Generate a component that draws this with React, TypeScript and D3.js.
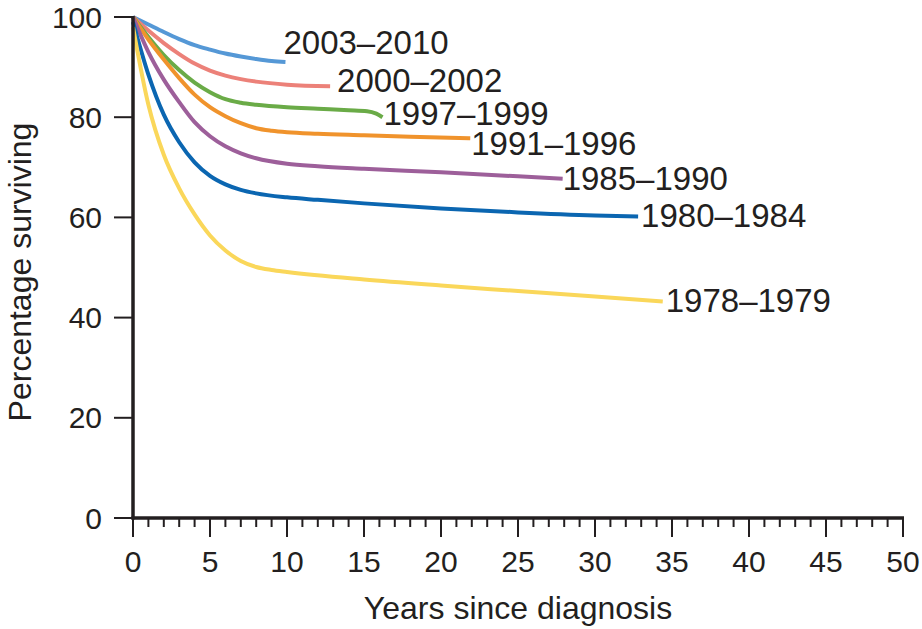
import React, { useEffect, useRef } from 'react';
import * as d3 from 'd3';

// survival curves, [years since diagnosis, % surviving]
const s2003_2010: [number, number][] = [
  [0, 100], [1, 98.5], [2, 97], [3, 95.6], [4, 94.4], [5, 93.5], [6, 92.7], [7, 92.1], [8, 91.6], [9, 91.2], [9.9, 91],
];
const s2000_2002: [number, number][] = [
  [0, 100], [1, 97.3], [2, 94.8], [3, 92.6], [4, 90.7], [5, 89.3], [6, 88.3], [7, 87.6], [8, 87.1], [10, 86.5], [12.8, 86.2],
];
const s1997_1999: [number, number][] = [
  [0, 100], [1, 96], [2, 92.4], [3, 89.4], [4, 86.9], [5, 85], [6, 83.6], [7, 82.9], [8, 82.5], [10, 82], [12, 81.7], [14, 81.4], [15.2, 81.2], [15.8, 80.7], [16.2, 80],
];
const s1991_1996: [number, number][] = [
  [0, 100], [1, 95.5], [2, 91.5], [3, 87.8], [4, 84.5], [5, 82], [6, 80.2], [7, 78.8], [8, 77.8], [9, 77.3], [10, 77], [12, 76.7], [15, 76.4], [18, 76.1], [21.9, 75.8],
];
const s1985_1990: [number, number][] = [
  [0, 100], [1, 93], [2, 87.5], [3, 83], [4, 79], [5, 76.2], [6, 74.2], [7, 72.8], [8, 71.8], [10, 70.7], [12, 70.2], [15, 69.7], [20, 69], [25, 68.2], [27.9, 67.7],
];
const s1980_1984: [number, number][] = [
  [0, 99], [1, 88.5], [2, 80.5], [3, 75], [4, 71], [5, 68.3], [6, 66.6], [7, 65.5], [8, 64.8], [10, 64], [12, 63.5], [15, 62.8], [20, 61.8], [25, 61], [30, 60.4], [32.8, 60.2],
];
const s1978_1979: [number, number][] = [
  [0, 98], [1, 82.5], [2, 72.5], [3, 65.8], [4, 60.6], [5, 56.4], [6, 53.4], [7, 51.3], [8, 50.1], [9, 49.5], [10, 49.1], [15, 47.6], [20, 46.4], [25, 45.3], [30, 44.2], [34.4, 43.2],
];

const cohortLabels = ['2003–2010', '2000–2002', '1997–1999', '1991–1996', '1985–1990', '1980–1984', '1978–1979'];
const cohortSeries = [s2003_2010, s2000_2002, s1997_1999, s1991_1996, s1985_1990, s1980_1984, s1978_1979];
const cohortColors = ['#5598d6', '#ec8179', '#6aab47', '#f0932c', '#9d5f9a', '#0b66b1', '#fad75a'];

const xMajorTicks = [0, 5, 10, 15, 20, 25, 30, 35, 40, 45, 50];
const yTicks = [0, 20, 40, 60, 80, 100];

export default function App() {
  const svgRef = useRef<SVGSVGElement>(null);

  useEffect(() => {
    if (!svgRef.current) return;
    const svg = d3.select(svgRef.current);
    svg.selectAll('*').remove();

    const font = '"Liberation Sans", Arial, sans-serif';
    const ink = '#231f20';

    const x = d3.scaleLinear().domain([0, 50]).range([133, 903]);
    const y = d3.scaleLinear().domain([0, 100]).range([518, 17]);

    // curves
    const line = d3.line<[number, number]>()
      .x(d => x(d[0]))
      .y(d => y(d[1]))
      .curve(d3.curveMonotoneX);

    cohortSeries.forEach((s, i) => {
      svg.append('path')
        .attr('d', line(s)!)
        .attr('fill', 'none')
        .attr('stroke', cohortColors[i])
        .attr('stroke-width', 4)
        .attr('stroke-linecap', 'butt');
    });

    // labels sit just right of each curve's end; top ones are lifted to clear each other
    const nudgeX = [-2, 7, 1, 1, 0, 3, 3];
    const nudgeY = [-20, -6, -4, 5, 0, -1, -1];
    cohortSeries.forEach((s, i) => {
      const last = s[s.length - 1];
      svg.append('text')
        .attr('x', x(last[0]) + nudgeX[i])
        .attr('y', y(last[1]) + nudgeY[i])
        .attr('dy', '0.35em')
        .attr('font-family', font)
        .attr('font-size', 33)
        .attr('fill', ink)
        .text(cohortLabels[i]);
    });

    // axes
    const axes = svg.append('g').attr('stroke', ink);
    axes.append('line')
      .attr('x1', x(0)).attr('x2', x(0))
      .attr('y1', 16).attr('y2', 519.5)
      .attr('stroke-width', 3.5);
    axes.append('line')
      .attr('x1', x(0) - 1.5).attr('x2', x(50) + 1)
      .attr('y1', y(0)).attr('y2', y(0))
      .attr('stroke-width', 3.5);

    axes.selectAll('.ymaj')
      .data(yTicks)
      .enter()
      .append('line')
      .attr('x1', 114).attr('x2', x(0))
      .attr('y1', d => y(d)).attr('y2', d => y(d))
      .attr('stroke-width', 2);

    axes.selectAll('.xmin')
      .data(d3.range(0, 51))
      .enter()
      .append('line')
      .attr('x1', d => x(d)).attr('x2', d => x(d))
      .attr('y1', y(0))
      .attr('y2', d => (d % 5 === 0 ? 537 : 527))
      .attr('stroke-width', 2);

    svg.selectAll('.ylab')
      .data(yTicks)
      .enter()
      .append('text')
      .attr('x', 102)
      .attr('y', d => y(d))
      .attr('dy', '0.35em')
      .attr('text-anchor', 'end')
      .attr('font-family', font)
      .attr('font-size', 30)
      .attr('fill', ink)
      .text(d => d);

    svg.selectAll('.xlab')
      .data(xMajorTicks)
      .enter()
      .append('text')
      .attr('x', d => x(d))
      .attr('y', 572)
      .attr('text-anchor', 'middle')
      .attr('font-family', font)
      .attr('font-size', 30)
      .attr('fill', ink)
      .text(d => d);

    svg.append('text')
      .attr('x', 518)
      .attr('y', 619)
      .attr('text-anchor', 'middle')
      .attr('font-family', font)
      .attr('font-size', 32)
      .attr('fill', ink)
      .text('Years since diagnosis');

    svg.append('text')
      .attr('transform', 'translate(31,272) rotate(-90)')
      .attr('text-anchor', 'middle')
      .attr('font-family', font)
      .attr('font-size', 32)
      .attr('fill', ink)
      .text('Percentage surviving');
  }, []);

  return (
    <svg
      ref={svgRef}
      width={922}
      height={629}
      style={{ position: 'absolute', left: 0, top: 0, background: '#fff' }}
    />
  );
}
